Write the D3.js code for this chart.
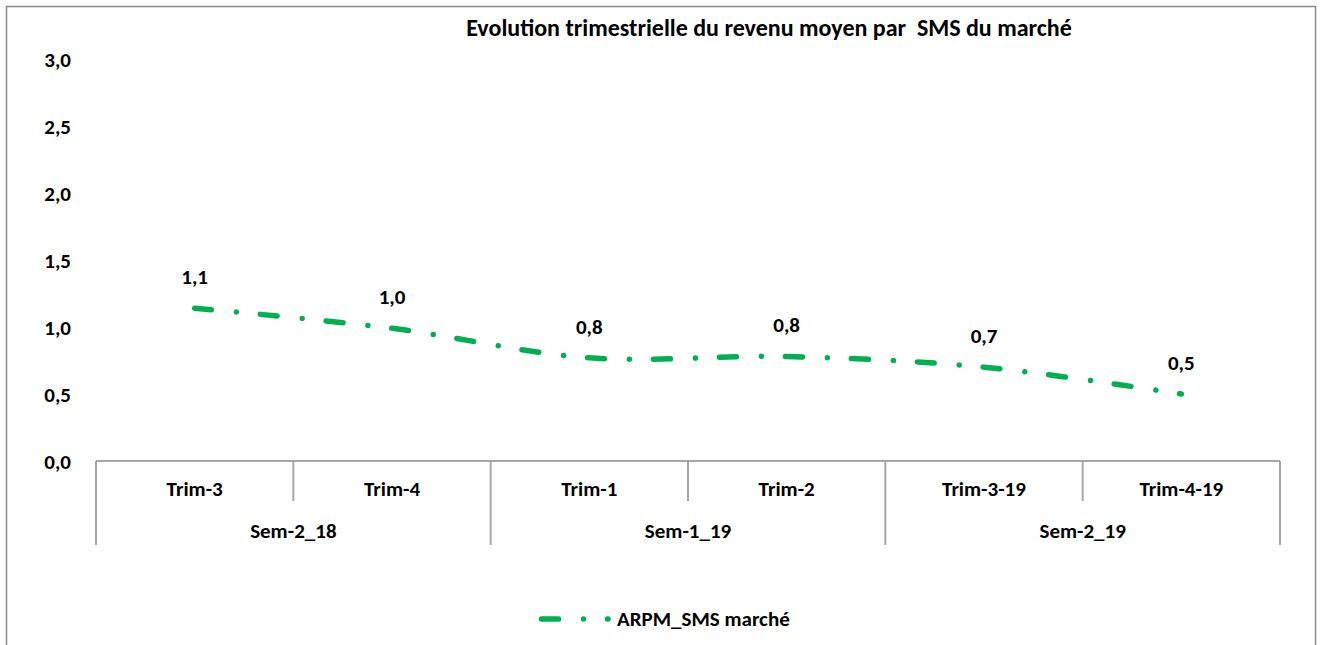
<!DOCTYPE html>
<html>
<head>
<meta charset="utf-8">
<script src="https://cdn.jsdelivr.net/npm/d3@7"></script>
<style>
  html, body { margin: 0; padding: 0; background: #fff; }
  svg { display: block; }
  text { font-family: Carlito, Calibri, Lato, "Open Sans", sans-serif; font-weight: bold; fill: #000; }
</style>
</head>
<body>
<svg id="chart" width="1320" height="645"></svg>
<script>
// ---- data ----
const trimestres = ["Trim-3", "Trim-4", "Trim-1", "Trim-2", "Trim-3-19", "Trim-4-19"];
const semestres = ["Sem-2_18", "Sem-1_19", "Sem-2_19"];
const semestreOf = ["Sem-2_18", "Sem-2_18", "Sem-1_19", "Sem-1_19", "Sem-2_19", "Sem-2_19"];
const arpmSms = [1.14, 0.99, 0.77, 0.78, 0.70, 0.50];
const arpmLabels = ["1,1", "1,0", "0,8", "0,8", "0,7", "0,5"];
const yTicks = [0, 0.5, 1.0, 1.5, 2.0, 2.5, 3.0];
const seriesName = "ARPM_SMS marché";
const chartTitle = "Evolution trimestrielle du revenu moyen par  SMS du marché";

// ---- layout ----
const svg = d3.select("#chart");
const green = "#00B050";
const axisGray = "#A6A6A6";
const dashPattern = "17,25,0.01,24";
const fs = "21px";

// outer frame
svg.append("rect")
  .attr("x", 6.5).attr("y", 6.5)
  .attr("width", 1309).attr("height", 700)
  .attr("fill", "none").attr("stroke", "#8C8C8C").attr("stroke-width", 1.5);

const x = d3.scaleBand().domain(trimestres).range([96, 1280]).padding(0);
const y = d3.scaleLinear().domain([0, 3]).range([461, 59]);

// title
svg.append("text")
  .attr("x", 769).attr("y", 27)
  .attr("text-anchor", "middle").attr("dominant-baseline", "central")
  .attr("xml:space", "preserve")
  .style("white-space", "pre")
  .style("font-size", "24px")
  .text(chartTitle);

// y axis labels (no line)
const yAxis = d3.axisLeft(y).tickValues(yTicks).tickSize(0).tickPadding(0)
  .tickFormat(d => d3.format(".1f")(d).replace(".", ","));
const gy = svg.append("g").attr("transform", "translate(71,0)").call(yAxis);
gy.select(".domain").remove();
gy.selectAll("text")
  .style("font-size", fs)
  .style("font-family", "Carlito, Calibri, Lato, sans-serif")
  .style("font-weight", "bold")
  .attr("fill", "#000")
  .attr("dy", "0.35em");

// x axis line
const gx = svg.append("g");
gx.append("line")
  .attr("x1", x.range()[0]).attr("x2", x.range()[1])
  .attr("y1", y(0)).attr("y2", y(0))
  .attr("stroke", axisGray).attr("stroke-width", 2);

// vertical dividers
const bw = x.bandwidth();
const boundaries = d3.range(trimestres.length + 1).map(i => x.range()[0] + i * bw);
boundaries.forEach((bx, i) => {
  const isSemBoundary = i === 0 || i === trimestres.length || semestreOf[i] !== semestreOf[i - 1];
  gx.append("line")
    .attr("x1", bx).attr("x2", bx)
    .attr("y1", y(0)).attr("y2", isSemBoundary ? 545 : 501)
    .attr("stroke", axisGray).attr("stroke-width", 2);
});

// trimestre labels
gx.selectAll(".trim").data(trimestres).enter().append("text")
  .attr("x", d => x(d) + bw / 2).attr("y", 489)
  .attr("text-anchor", "middle").attr("dominant-baseline", "central")
  .style("font-size", fs)
  .text(d => d);

// semestre labels
gx.selectAll(".sem").data(semestres).enter().append("text")
  .attr("x", s => {
    const idx = semestreOf.map((v, i) => v === s ? i : -1).filter(i => i >= 0);
    return (x(trimestres[idx[0]]) + x(trimestres[idx[idx.length - 1]]) + bw) / 2;
  })
  .attr("y", 531)
  .attr("text-anchor", "middle").attr("dominant-baseline", "central")
  .style("font-size", fs)
  .text(d => d);

// line
const pts = trimestres.map((t, i) => [x(t) + bw / 2, y(arpmSms[i])]);
const line = d3.line().curve(d3.curveCatmullRom.alpha(0.5));
svg.append("path")
  .attr("d", line(pts))
  .attr("fill", "none")
  .attr("stroke", green)
  .attr("stroke-width", 5.5)
  .attr("stroke-linecap", "round")
  .attr("stroke-dasharray", dashPattern);

// data labels
svg.selectAll(".dl").data(pts).enter().append("text")
  .attr("x", d => d[0]).attr("y", d => d[1] - 31)
  .attr("text-anchor", "middle").attr("dominant-baseline", "central")
  .style("font-size", fs)
  .text((d, i) => arpmLabels[i]);

// legend
const lg = svg.append("g");
lg.append("line")
  .attr("x1", 541.5).attr("x2", 608)
  .attr("y1", 619).attr("y2", 619)
  .attr("stroke", green).attr("stroke-width", 5.5)
  .attr("stroke-linecap", "round")
  .attr("stroke-dasharray", dashPattern);
lg.append("text")
  .attr("x", 617).attr("y", 619)
  .attr("dominant-baseline", "central")
  .style("font-size", fs)
  .text(seriesName);
</script>
</body>
</html>
